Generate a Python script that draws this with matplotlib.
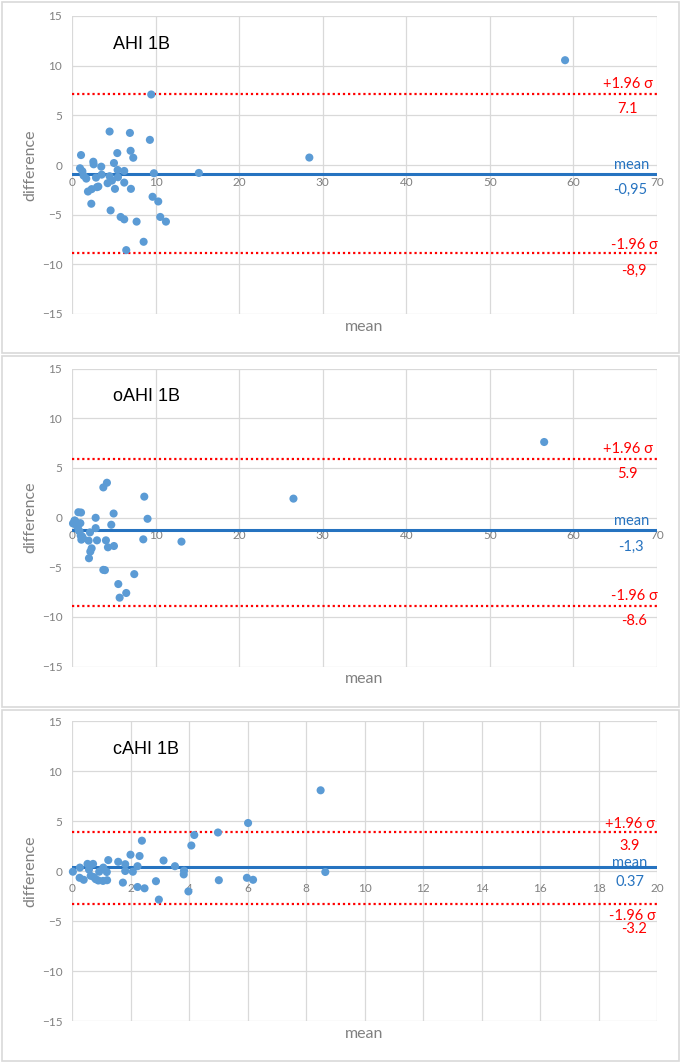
import matplotlib
matplotlib.use('Agg')
import matplotlib.pyplot as plt
from matplotlib.patches import Rectangle

plt.rcParams['font.family'] = ['Lato', 'DejaVu Sans']

# ---- AHI 1B ----
ahi_mean = [9.48, 4.5, 6.93, 9.32, 1.08, 5.42, 7.01, 7.33, 2.55, 2.59, 5.02, 3.5,
            0.96, 1.24, 5.46, 6.25, 9.8, 15.18, 1.39, 1.71, 2.87, 3.55, 4.5, 4.78,
            5.5, 4.26, 6.25, 5.14, 7.05, 3.15, 2.99, 2.35, 1.91, 2.31, 9.64, 10.32,
            4.62, 10.56, 5.82, 6.25, 11.24, 7.73, 8.57, 6.49, 59.0, 28.4]
ahi_diff = [7.1, 3.37, 3.23, 2.53, 1.0, 1.2, 1.43, 0.73, 0.33, 0.07, 0.2, -0.17,
            -0.33, -0.63, -0.5, -0.6, -0.83, -0.8, -1.07, -1.37, -1.27, -0.97, -1.13, -1.57,
            -1.23, -1.83, -1.77, -2.4, -2.4, -2.17, -2.23, -2.43, -2.67, -3.9, -3.2, -3.67,
            -4.57, -5.23, -5.23, -5.47, -5.7, -5.7, -7.73, -8.57, 10.55, 0.75]
ahi_limits = [7.1, -0.95, -8.9]
ahi_texts = ['7.1', '-0,95', '-8,9']

# ---- oAHI 1B ----
oahi_mean = [4.18, 3.75, 8.65, 0.76, 1.08, 4.98, 2.83, 9.04, 0.36, 0.12, 1.0, 4.7,
             0.6, 2.83, 0.8, 2.15, 1.04, 1.31, 1.12, 1.99, 2.99, 4.06, 8.53, 13.1,
             4.3, 5.02, 2.35, 2.19, 2.03, 3.75, 3.94, 7.45, 5.54, 6.49, 5.7,
             0.3, 0.5, 0.7, 0.9, 1.2, 26.5, 56.5]
oahi_diff = [3.5, 3.03, 2.1, 0.53, 0.5, 0.4, -0.03, -0.13, -0.33, -0.6, -0.57, -0.73,
             -0.9, -1.07, -1.3, -1.5, -1.83, -2.07, -2.23, -2.33, -2.3, -2.3, -2.2, -2.43,
             -3.0, -2.87, -3.1, -3.43, -4.1, -5.27, -5.3, -5.7, -6.7, -7.6, -8.07,
             -0.3, -0.5, -0.9, -1.4, -1.9, 1.9, 7.6]
oahi_limits = [5.9, -1.3, -8.9]
oahi_texts = ['5.9', '-1,3', '-8.6']

# ---- cAHI 1B ----
cahi_mean = [6.02, 4.99, 4.18, 4.08, 2.39, 2.0, 2.31, 1.24, 1.58, 3.13, 1.82, 0.53,
             0.72, 0.27, 1.07, 2.24, 3.52, 0.03, 0.58, 0.93, 1.19, 1.82, 2.08, 3.83,
             3.82, 0.64, 0.75, 0.26, 0.4, 0.9, 1.06, 1.2, 0.81, 1.74, 2.87, 5.02,
             5.98, 6.19, 2.24, 2.48, 2.97, 3.98, 8.5, 8.66]
cahi_diff = [4.8, 3.85, 3.6, 2.55, 3.03, 1.63, 1.5, 1.09, 0.92, 1.05, 0.68, 0.71,
             0.71, 0.34, 0.34, 0.48, 0.48, -0.07, 0.14, -0.07, -0.1, 0.0, -0.07, 0.03,
             -0.34, -0.48, -0.61, -0.68, -0.88, -0.95, -0.99, -0.92, -0.82, -1.16, -1.02, -0.92,
             -0.68, -0.88, -1.6, -1.73, -2.86, -2.04, 8.07, -0.1]
cahi_limits = [3.9, 0.37, -3.3]
cahi_texts = ['3.9', '0.37', '-3.2']

point_color = '#5b9bd5'
mean_color = '#2673c0'
limit_color = '#ff0000'
grid_color = '#d9d9d9'
tick_color = '#808080'

fig = plt.figure(figsize=(6.82, 10.63), dpi=100)

# panel frames (pixel boxes from the reference)
for top, bottom in [(2, 353), (356, 707), (710, 1061)]:
    fig.add_artist(Rectangle((2 / 682, 1 - bottom / 1063), 677 / 682, (bottom - top) / 1063,
                             transform=fig.transFigure, fill=False,
                             edgecolor=grid_color, lw=1.2))


def draw_panel(rect, x, y, limits, texts, title, xmax, xstep, offs):
    ax = fig.add_axes(rect)
    ax.set_xlim(0, xmax)
    ax.set_ylim(-15, 15)
    ax.set_xticks(range(0, xmax + 1, xstep))
    ax.set_yticks(range(-15, 16, 5))
    ax.grid(True, color=grid_color, lw=0.9)
    ax.set_axisbelow(True)
    for s in ax.spines.values():
        s.set_color('none')
    ax.spines['bottom'].set_position(('data', 0))
    ax.tick_params(axis='both', length=0, labelsize=8.5, labelcolor=tick_color)
    ax.tick_params(axis='x', pad=9)
    ax.tick_params(axis='y', pad=7)

    upper, mid, lower = limits
    ax.axhline(upper, color=limit_color, lw=1.6, ls=(0, (1, 1.3)), zorder=2)
    ax.axhline(lower, color=limit_color, lw=1.6, ls=(0, (1, 1.3)), zorder=2)
    ax.axhline(mid, color=mean_color, lw=2.2, zorder=2)
    ax.scatter(x, y, s=34, color=point_color, edgecolors='none', zorder=3, clip_on=False)

    ax.text(0.07, 0.905, title, transform=ax.transAxes, fontsize=13,
            family='Liberation Sans', color='black', va='center')

    tx = ('axes fraction', 'data')
    items = [('+1.96 σ', upper, limit_color), (texts[0], upper, limit_color),
             ('mean', mid, mean_color), (texts[1], mid, mean_color),
             ('-1.96 σ', lower, limit_color), (texts[2], lower, limit_color)]
    for (label, yv, col), (dx, dy) in zip(items, offs):
        ax.annotate(label, xy=(0.96, yv), xycoords=tx, xytext=(dx, dy),
                    textcoords='offset pixels', ha='center', va='center',
                    fontsize=10.5, color=col)

    ax.set_ylabel('difference', fontsize=11.5, color=tick_color)
    ax.yaxis.set_label_coords(-0.06, 0.5)
    ax.set_xlabel('mean', fontsize=11.5, color=tick_color)
    ax.xaxis.set_label_coords(0.5, -0.02)
    return ax


left = 72 / 682
width = 585 / 682
draw_panel([left, 1 - 314 / 1063, width, 298 / 1063], ahi_mean, ahi_diff,
           ahi_limits, ahi_texts, 'AHI 1B', 70, 10,
           [(-6, 10), (-6, -15), (-2, 9), (-3, -15), (1, 8), (0, -17)])
draw_panel([left, 1 - 666.5 / 1063, width, 298 / 1063], oahi_mean, oahi_diff,
           oahi_limits, oahi_texts, 'oAHI 1B', 70, 10,
           [(-6, 10), (-6, -15), (-2, 9), (-3, -16), (1, 10), (0, -15)])
draw_panel([left, 1 - 1021 / 1063, width, 300 / 1063], cahi_mean, cahi_diff,
           cahi_limits, cahi_texts, 'cAHI 1B', 20, 2,
           [(-4, 8.5), (-4, -14.5), (-4, 4), (-4, -15), (-1, -12), (0, -25)])

fig.savefig('out.png', dpi=100)
